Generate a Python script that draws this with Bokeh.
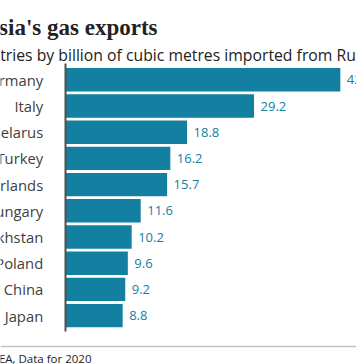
from bokeh.plotting import figure
from bokeh.models import Range1d
from bokeh.core.properties import value
from bokeh.embed import file_html
from bokeh.resources import INLINE

# ---- data ----
countries = ["Germany", "Italy", "Belarus", "Turkey", "Netherlands",
             "Hungary", "Kazakhstan", "Poland", "China", "Japan"]
imports_bcm = [42.6, 29.2, 18.8, 16.2, 15.7, 11.6, 10.2, 9.6, 9.2, 8.8]
value_labels = ["42.6", "29.2", "18.8", "16.2", "15.7", "11.6", "10.2", "9.6", "9.2", "8.8"]
title_text = "Russia's gas exports"
subtitle_text = "Top countries by billion of cubic metres imported from Russia"
source_text = "Source: IEA, Data for 2020"

W, H = 356, 364
X0, SX = 65.5, 6.44      # pixel of value 0, pixels per bcm
Y0, SY = 79.3, 26.2      # pixel centre of first row, pixels per row


def xd(px):
    return (px - X0) / SX


def yd(py):
    return (py - Y0) / SY


rows = list(range(len(countries)))

p = figure(width=W, height=H, output_backend="svg", toolbar_location=None,
           x_range=Range1d(xd(0), xd(W)), y_range=Range1d(yd(H), yd(0)),
           min_border=0, x_axis_location=None, y_axis_location=None,
           outline_line_color=None, background_fill_color="white",
           border_fill_color="white")
p.grid.visible = False
p.styles = {"position": "absolute", "left": "0px", "top": "0px"}

TEAL = "#1380A1"
SANS = "Open Sans"

p.hbar(y=rows, left=0, right=imports_bcm, height=23.4 / SY,
       fill_color=TEAL, line_color=None)

# axis line
p.segment(x0=[xd(65)], x1=[xd(65)], y0=[yd(63)], y1=[yd(331)],
          line_color="#505050", line_width=2)
# bottom rule
p.segment(x0=[xd(0)], x1=[xd(W)], y0=[yd(346)], y1=[yd(346)],
          line_color="#c4c4c4", line_width=1.6)

# category labels
p.text(x=[xd(42.7)] * len(rows), y=rows, text=countries,
       text_align="right", text_baseline="middle",
       text_font=value(SANS), text_font_size="14.8px", text_color="#404040")

# value labels
p.text(x=imports_bcm, y=rows, text=value_labels, x_offset=6.5,
       text_align="left", text_baseline="middle",
       text_font=value(SANS), text_font_size="13px", text_color=TEAL)

# title / subtitle / source
p.text(x=[xd(157)], y=[yd(27.3)], text=[title_text], text_align="right",
       text_baseline="alphabetic", text_font=value("Liberation Serif"),
       text_font_style="bold", text_font_size="23px", text_color="#222222")
p.text(x=[xd(-68.5)], y=[yd(54.5)], text=[subtitle_text], text_align="left",
       text_baseline="alphabetic", text_font=value(SANS),
       text_font_size="15.75px", text_color="#222222")
p.text(x=[xd(91)], y=[yd(358)], text=[source_text], text_align="right",
       text_baseline="alphabetic", text_font=value(SANS),
       text_font_size="11.5px", text_color="#222222")

open("out.html", "w").write(file_html(p, INLINE))
